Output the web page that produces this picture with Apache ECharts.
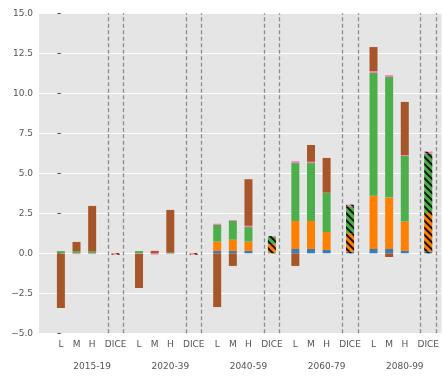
<!DOCTYPE html>
<html>
<head>
<meta charset="utf-8">
<script src="https://cdn.jsdelivr.net/npm/echarts@6/dist/echarts.min.js"></script>
<style>
  html, body { margin: 0; padding: 0; background: #ffffff; }
  #chart { width: 442px; height: 376px; }
</style>
</head>
<body>
<div id="chart"></div>
<script>
// Periods and scenarios along the x axis
const periods = ['2015-19', '2020-39', '2040-59', '2060-79', '2080-99'];
const scenarios = ['L', 'M', 'H', 'DICE'];

// Stacked components, one value per bar: period by period, in L, M, H, DICE order
const blueVals = [
  0, 0, 0, 0,
  0, 0, 0, 0,
  0.15, 0.15, 0.15, 0.02,
  0.27, 0.27, 0.21, 0.10,
  0.27, 0.27, 0.15, 0.12
];
const orangeVals = [
  0, 0, 0, -0.05,
  0, 0, 0, -0.05,
  0.58, 0.70, 0.58, 0.55,
  1.75, 1.75, 1.12, 1.13,
  3.33, 3.21, 1.83, 2.40
];
const greenVals = [
  0.14, 0.14, 0.14, 0,
  0.14, 0, 0.08, 0,
  1.04, 1.17, 0.91, 0.45,
  3.62, 3.62, 2.44, 1.71,
  7.67, 7.54, 4.10, 3.71
];
const pinkVals = [
  -0.03, -0.05, -0.05, -0.04,
  -0.03, -0.08, -0.05, -0.04,
  0.08, 0.06, 0.08, 0.06,
  0.12, 0.08, 0.02, 0.10,
  0.12, 0.12, 0.06, 0.12
];
const brownVals = [
  -3.39, 0.57, 2.82, 0,
  -2.14, 0.15, 2.63, 0,
  -3.36, -0.79, 2.91, 0,
  -0.79, 1.05, 2.17, 0,
  1.50, -0.23, 3.32, 0
];

// Y axis ticks
const yTicks = [-5, -2.5, 0, 2.5, 5, 7.5, 10, 12.5, 15];

// Slot layout inside a period block (in x-axis units)
const slotOffsets = [0, 1, 2, 3.5];
const blockWidth = 5;

const xPos = [];
const xLabelMap = {};
periods.forEach((p, g) => {
  scenarios.forEach((s, k) => {
    const x = g * blockWidth + slotOffsets[k];
    xPos.push(x);
    xLabelMap[x] = s;
  });
});
const periodCenters = periods.map((p, g) => g * blockWidth + 2);
const periodLabelMap = {};
periodCenters.forEach((c, g) => { periodLabelMap[c] = periods[g]; });

// Dashed separators around each DICE bar
const separators = [];
periods.forEach((p, g) => {
  separators.push(g * blockWidth + 3, g * blockWidth + 4);
});

const hatch = {
  symbol: 'rect',
  symbolSize: 1,
  color: 'rgba(0,0,0,0.9)',
  dashArrayX: [1, 0],
  dashArrayY: [1.6, 2.6],
  rotation: Math.PI / 4
};

// Value first, position second, so the stack runs along the value dimension
function buildData(vals) {
  return vals.map((v, i) => {
    const item = { value: [v, xPos[i]] };
    if (i % 4 === 3) {
      item.itemStyle = { decal: hatch };
    }
    return item;
  });
}

const components = [
  { name: 'blue', color: '#377EB8', vals: blueVals },
  { name: 'orange', color: '#FF7F00', vals: orangeVals },
  { name: 'green', color: '#4DAF4A', vals: greenVals },
  { name: 'pink', color: '#F781BF', vals: pinkVals },
  { name: 'brown', color: '#A65628', vals: brownVals }
];

const textColor = '#555555';
const fontFamily = 'DejaVu Sans';

const series = components.map((c, idx) => {
  const s = {
    name: c.name,
    type: 'bar',
    stack: 'all',
    barWidth: 8,
    encode: { x: 1, y: 0 },
    itemStyle: { color: c.color },
    data: buildData(c.vals),
    silent: true
  };
  if (idx === 0) {
    s.markLine = {
      silent: true,
      symbol: 'none',
      label: { show: false },
      lineStyle: { type: [4, 2.5], color: '#8c8c8c', width: 1.3 },
      data: separators.map(x => ({ xAxis: x }))
    };
  }
  return s;
});

const chart = echarts.init(document.getElementById('chart'), null, { renderer: 'canvas' });
chart.setOption({
  animation: false,
  backgroundColor: '#ffffff',
  textStyle: { fontFamily: fontFamily },
  grid: {
    show: true,
    left: 39,
    right: 0,
    top: 13.3,
    bottom: 42.7,
    backgroundColor: '#E5E5E5',
    borderWidth: 0,
    containLabel: false
  },
  xAxis: [
    {
      type: 'value',
      min: -1.4,
      max: 24.35,
      position: 'bottom',
      axisLine: { show: false },
      axisTick: { show: false },
      splitLine: { show: false },
      axisLabel: {
        customValues: xPos,
        formatter: v => xLabelMap[v] || '',
        color: textColor,
        fontSize: 9,
        fontFamily: fontFamily,
        margin: 7
      }
    },
    {
      type: 'value',
      min: -1.4,
      max: 24.35,
      position: 'bottom',
      axisLine: { show: false },
      axisTick: { show: false },
      splitLine: { show: false },
      axisLabel: {
        customValues: periodCenters,
        formatter: v => periodLabelMap[v] || '',
        color: textColor,
        fontSize: 9,
        fontFamily: fontFamily,
        margin: 29
      }
    }
  ],
  yAxis: {
    type: 'value',
    min: -5,
    max: 15,
    interval: 2.5,
    axisLine: { show: false },
    axisTick: { show: true, length: 3.5, lineStyle: { color: textColor, width: 1 } },
    splitLine: { show: true, lineStyle: { color: '#ffffff', width: 1.1 } },
    axisLabel: {
      color: textColor,
      fontSize: 9,
      fontFamily: fontFamily,
      margin: 6,
      formatter: v => (v < 0 ? '\u2212' : '') + Math.abs(v).toFixed(1)
    }
  },
  series: series
});
</script>
</body>
</html>
